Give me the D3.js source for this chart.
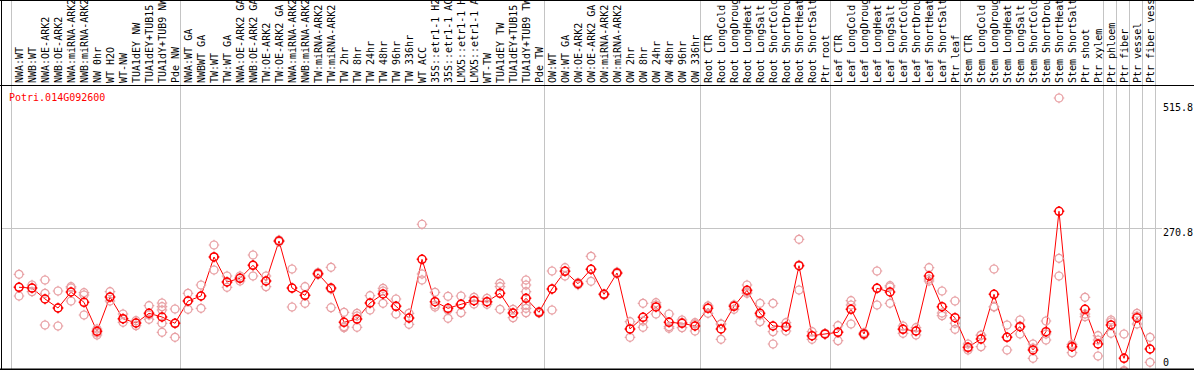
<!DOCTYPE html>
<html><head><meta charset="utf-8">
<script src="https://cdn.jsdelivr.net/npm/d3@7"></script>
<style>
html,body{margin:0;padding:0;background:#fff;}
svg{display:block;}
text{font-family:"DejaVu Sans Mono",monospace;font-size:10px;}
</style></head><body>
<svg id="chart" width="1194" height="370"></svg>
<script>
const geneId = "Potri.014G092600";
const samples = [
"NWA:WT","NWB:WT","NWA:OE-ARK2","NWB:OE-ARK2","NWA:miRNA-ARK2","NWB:miRNA-ARK2","NW 0hr","WT H2O","WT-NW","TUA1dEY NW","TUA1dEY+TUB15 NW","TUA1dY+TUB9 NW","Pde NW",
"NWA:WT GA","NWBWT GA","TW:WT","TW:WT GA","NWA:OE-ARK2 GA","NWB:OE-ARK2 GA","TW:OE-ARK2","TW:OE-ARK2 GA","NWA:miRNA-ARK2 GA","NWB:miRNA-ARK2 GA","TW:miRNA-ARK2","TW:miRNA-ARK2 GA",
"TW 2hr","TW 8hr","TW 24hr","TW 48hr","TW 96hr","TW 336hr","WT ACC","35S::etr1-1 H2O","35S::etr1-1 ACC","LMX5::etr1-1 H2O","LMX5::etr1-1 ACC","WT-TW","TUA1dEY TW","TUA1dEY+TUB15 TW","TUA1dY+TUB9 TW","Pde TW",
"OW:WT","OW:WT GA","OW:OE-ARK2","OW:OE-ARK2 GA","OW:miRNA-ARK2","OW:miRNA-ARK2 GA","OW 2hr","OW 8hr","OW 24hr","OW 48hr","OW 96hr","OW 336hr",
"Root CTR","Root LongCold","Root LongDrought","Root LongHeat","Root LongSalt","Root ShortCold","Root ShortDrought","Root ShortHeat","Root ShortSalt","Ptr root",
"Leaf CTR","Leaf LongCold","Leaf LongDrought","Leaf LongHeat","Leaf LongSalt","Leaf ShortCold","Leaf ShortDrought","Leaf ShortHeat","Leaf ShortSalt","Ptr leaf",
"Stem CTR","Stem LongCold","Stem LongDrought","Stem LongHeat","Stem LongSalt","Stem ShortCold","Stem ShortDrought","Stem ShortHeat","Stem ShortSalt","Ptr shoot","Ptr xylem",
"Ptr phloem","Ptr fiber","Ptr vessel","Ptr fiber vessel"
];
// sample index where a group separator line is drawn (before that sample)
const groupStarts = [0,13,41,53,63,73,84,85,86,87,88];
const yTicks = [0, 270.8, 515.8];
const gridValues = [270.8];
const means = [
160.4,159.0,138.4,121.5,151.5,132.2,77.7,142.1,101.4,93.3,
111.5,104.6,92.8,134.6,144.0,217.3,170.3,177.3,201.7,172.2,
247.3,159.0,145.3,185.9,159.0,94.6,100.8,130.9,147.8,124.7,
102.7,212.9,133.3,120.9,128.4,135.2,133.3,149.1,112.1,139.7,
113.4,157.2,190.4,167.1,194.2,147.2,187.2,82.1,104.0,123.4,
94.6,92.8,87.7,120.9,82.1,124.7,154.7,111.5,87.7,86.4,
200.9,69.5,72.7,75.9,119.0,72.7,158.5,151.5,81.5,78.3,
181.6,123.9,103.3,47.7,63.3,147.2,66.5,86.4,42.6,77.0,
303.1,48.8,119.0,53.9,89.6,27.0,103.3,44.5
];
const replicates = [
[184.8,160.9,144.0],[164.7,159.0,152.1],[174.1,149.1,89.6],[153.4,121.5,87.7],[161.5,159.0,134.6],
[150.2,145.9,108.3],[82.1,74.5,70.8],[152.1,142.1,134.6],[110.2,100.8,94.6],[97.6,93.3,88.3],
[125.8,108.3,100.3],[130.9,123.9,117.7,92.8,75.9],[119.6,92.8,66.5],[149.1,134.6,119.0],[164.7,144.0,120.9],
[239.8,217.3,192.8],[181.6,170.3,160.4],[181.6,178.0,172.2],[221.0,202.2,181.6],[181.6,172.2,161.5],
[249,247,246],[194.7,159.0,123.4],[161.5,145.3,130.3],[188,186,184],[197.9,157,122.1],
[113.4,86.4,84.5],[111.5,106.5,85.2],[144.6,130.9,117.7],[158.5,153.4,130.3],[138.4,125.2,110.2],
[111.5,102.7,90.9],[278.7,185.3,174.1],[151.0,127.1,123.4],[143.5,117.7,102.1],[144.0,129.0,112.7],
[141.6,135.2,129.0],[139.7,132.8,128.4],[167.9,161.5,119.0],[119.0,112.1,103.3],[174.1,164.7,152.1,127.1,120.9,112.7],
[115,113,112],[191.0,157.2,117.7],[197.2,191.0,181.6],[169,167,165],[218.6,194.2,171.6],
[148,147,146],[189,187,186],[95.8,82.1,66.5],[130.3,97.1,85.2],[131.4,127.1,110.2],
[110.2,86.4,83.4],[99.0,94.6,84.5],[93.9,91.4,78.3],[125.2,125.2,111.5],[91.4,91.4,62.7],
[127.1,127.1,119.0],[164.7,151.5,149.1],[130.3,108.3,95.8],[130.3,77.0,53.9],[93.9,86.8,78.3],
[250.5,202.2,155.3],[77.0,68.9,62.7],[74,73,72],[88.3,76.4,60.1],[135.2,127.1,91.4],
[75.1,72.7,70.8],[191.0,159.0,127.1],[163.4,160.9,130.3],[87.7,82.1,74.0],[84.5,78.3,70.8],
[197.2,175.9,172.2],[153.4,112.1,107.0],[134.6,92.8,81.5],[53.9,46.4,42.6],[70.8,69.9,48.8],
[194.7,123.9,123.4],[89.6,67.0,42.6],[99.0,87.7,72.7],[53.9,46.4,27.0],[97.1,72.7,61.4],
[515.8,214.8,181.6],[53.3,52.0,37.6],[141.6,110.2,105.2],[69.5,61.4,31.4],[99.0,95.2,74.0],
[72.7,4.1,2.3],[111.5,106.5,91.4],[66.5,44.5,19.5]
];

const W = 1194, H = 370;
const headerBottom = 85.5, plotBottom = 369.5;
const svg = d3.select("#chart");

const x = d3.scaleBand().domain(d3.range(samples.length + 1)).range([11, 11 + 13 * (samples.length + 1)]).padding(0);
const cx = i => x(i) + 8;
const y = d3.scaleLinear().domain([0, d3.max(yTicks)]).range([372.7, 98]);

// vertical group separators
svg.append("g").selectAll("line").data(groupStarts).join("line")
  .attr("x1", d => Math.round(x(d)) + 0.5).attr("x2", d => Math.round(x(d)) + 0.5)
  .attr("y1", 0).attr("y2", plotBottom)
  .attr("stroke", "#c4c4c4").attr("stroke-width", 1);

// horizontal grid
svg.append("g").selectAll("line").data(gridValues).join("line")
  .attr("x1", 1).attr("x2", 1162)
  .attr("y1", d => Math.round(y(d)) + 0.5).attr("y2", d => Math.round(y(d)) + 0.5)
  .attr("stroke", "#c4c4c4").attr("stroke-width", 1);

// frame lines
svg.append("line").attr("x1", 0).attr("x2", W).attr("y1", 0.5).attr("y2", 0.5).attr("stroke", "#000");
svg.append("line").attr("x1", 0).attr("x2", W).attr("y1", headerBottom).attr("y2", headerBottom).attr("stroke", "#000");
svg.append("line").attr("x1", 1.5).attr("x2", 1.5).attr("y1", 0).attr("y2", H).attr("stroke", "#000");

// sample labels (rotated)
svg.append("g").selectAll("text").data(samples).join("text")
  .attr("transform", (d, i) => `translate(${cx(i)},83) rotate(-90)`)
  .attr("dy", "0.36em")
  .attr("fill", "#000")
  .text(d => d);

// title
svg.append("text").attr("x", 9).attr("y", 101).attr("fill", "#ff0000").text(geneId);

// y labels
svg.append("g").selectAll("text").data(yTicks).join("text")
  .attr("x", 1163)
  .attr("y", d => Math.min(Math.max(y(d), 103), 358) + 7.7)
  .attr("fill", "#000")
  .text(d => d);

function marker(g, r, t) {
  g.append("circle").attr("r", r).attr("fill", "none");
  g.append("path").attr("d", `M0,${-r - t}V${-r + 0.5}M0,${r - 0.5}V${r + t}M${-r - t},0H${-r + 0.5}M${r - 0.5},0H${r + t}`)
    .attr("fill", "none");
}

// line through means
svg.append("path").datum(means)
  .attr("d", d3.line().x((d, i) => cx(i)).y(d => y(d)))
  .attr("fill", "none").attr("stroke", "#ff0000").attr("stroke-width", 1);

// replicates
const repData = [];
replicates.forEach((arr, i) => arr.forEach(v => repData.push({i, v})));
svg.append("g").selectAll("g").data(repData).join("g")
  .attr("transform", d => `translate(${cx(d.i)},${y(d.v)})`)
  .attr("stroke", "#e8a0a4").attr("stroke-width", 1.2)
  .each(function() { marker(d3.select(this), 4, 1.3); });

// means
svg.append("g").selectAll("g").data(means).join("g")
  .attr("transform", (d, i) => `translate(${cx(i)},${y(d)})`)
  .attr("stroke", "#ff0000").attr("stroke-width", 1.5)
  .each(function() { marker(d3.select(this), 4, 1.3); });

// bottom line
svg.append("rect").attr("x", 0).attr("y", 368.5).attr("width", W).attr("height", 2).attr("fill", "#000");
</script>
</body></html>
